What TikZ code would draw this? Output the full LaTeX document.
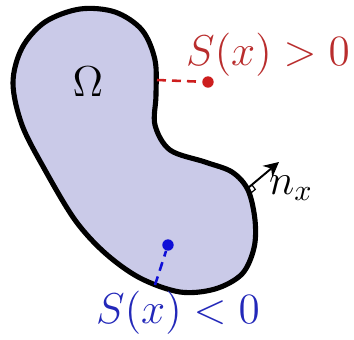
\documentclass[tikz,border=0pt]{standalone}
\usepackage{amsmath,amssymb}
\usetikzlibrary{arrows.meta}
\definecolor{domfill}{RGB}{202,202,232}
\definecolor{outred}{RGB}{205,30,30}
\definecolor{outredtxt}{RGB}{185,45,45}
\definecolor{inblue}{RGB}{15,15,215}
\definecolor{inbluetxt}{RGB}{35,40,185}
\tikzset{
  domainstyle/.style={draw=black, line width=1.7pt, fill=domfill},
  dotstyle/.style={circle, inner sep=0pt, minimum size=3.8pt},
  distline/.style={densely dashed, line width=0.85pt},
  labelstyle/.style={inner sep=0pt, font=\fontsize{14.6}{16}\selectfont},
  normalarrow/.style={-{Stealth[length=5pt,width=5pt]}, line width=0.65pt}
}
\begin{document}
\begin{tikzpicture}[x={(0.3333pt,0)}, y={(0,-0.3333pt)}]
  \useasboundingbox (0,0) rectangle (354,340);
  % domain
  \draw[domainstyle] plot[smooth cycle, tension=0.55] coordinates {
    (13,83) (22,48) (45,22) (80,9) (115,12) (142,30) (155,60) (156,95)
    (155,125) (170,150) (205,162) (232,172) (248,190) (255,220) (254,248)
    (242,274) (215,289) (180,292) (140,278) (105,253) (75,220) (45,170)
    (22,125)};
  \node[labelstyle] (omega) at (88,82) {$\Omega$};
  % outside point
  \coordinate (bout) at (157,80);
  \node[dotstyle, fill=outred] (pout) at (208,82) {};
  \draw[distline, outred] (bout) -- (pout);
  \node[labelstyle, text=outredtxt] (sout) at (268,55) {$S(x) > 0$};
  % inside point
  \coordinate (bin) at (155,285);
  \node[dotstyle, fill=inblue] (pin) at (168,245) {};
  \draw[distline, inblue] (bin) -- (pin);
  \node[labelstyle, text=inbluetxt] (sin) at (178,313) {$S(x) < 0$};
  % normal
  \coordinate (bn) at (248,188);
  \coordinate (tn) at (279,162);
  \draw[normalarrow] (bn) -- (tn);
  \draw[line width=0.4pt] (bn) -- ++(3.4,4.6) -- ++(3.9,-3.2) -- ++(-3.4,-4.6);
  \node[labelstyle] (nx) at (291,188) {$n_x$};
\end{tikzpicture}
\end{document}
